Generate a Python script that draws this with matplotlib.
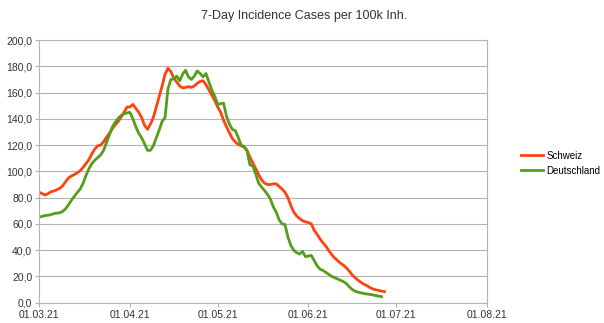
import numpy as np
import matplotlib
matplotlib.use("Agg")
import matplotlib.pyplot as plt
import matplotlib.dates as mdates
from matplotlib.ticker import FuncFormatter, MultipleLocator

plt.rcParams['font.family'] = ['Liberation Sans', 'DejaVu Sans']

# daily values from 01.03.21
start = np.datetime64('2021-03-01')
schweiz = [84, 83, 82, 83, 84.5, 85, 86, 87, 89, 92,
           95, 96.5, 97.5, 99, 100.5, 103, 106, 109, 113.5, 117,
           119.5, 120, 122.5, 126, 129, 132.5, 135.5, 138, 141.5, 145,
           149, 149, 151, 148, 145, 141, 135, 132, 136, 141,
           149, 157, 165, 174, 178.5, 176, 171, 168, 165, 163.5,
           164, 164.5, 164, 165, 167, 168.5, 169, 166, 162, 158,
           154, 149, 145, 139, 134, 129.5, 125, 122.5, 120.5, 119.5,
           118.5, 116, 111, 106.5, 102, 97.5, 93.5, 91, 90, 90,
           90.5, 90.5, 88.5, 86.5, 84, 80, 74, 69, 66, 64,
           62.5, 61.5, 61, 60, 55, 52, 48.5, 45.5, 43, 39.5,
           36.5, 34, 32, 30, 28.5, 26.5, 24, 21, 19, 17,
           15.5, 14, 13, 11.5, 10.5, 9.8, 9.3, 8.8, 8.4]
deutschland = [65, 65.8, 66.3, 66.6, 67, 67.8, 68.2, 68.4, 69.5, 71.5,
               74.5, 78, 81, 84, 86.5, 91, 97, 102, 106, 108.5,
               110.5, 112.5, 116, 122, 128, 134, 137.5, 140.5, 142.5, 143.8,
               144.5, 145, 140, 134, 129, 125.5, 121, 116, 116, 119.5,
               125.5, 131.5, 138, 141, 163, 170, 170.5, 172.5, 169, 174,
               177, 172, 170, 172.5, 176.5, 174.5, 172, 174.5, 168, 162,
               157, 151, 151.5, 152, 142, 136, 132, 131, 126, 120,
               119, 116, 105, 104, 98, 91, 88, 85.5, 82.5, 79,
               73, 69, 63, 60, 59.5, 50, 43.5, 40, 38, 37,
               39, 35, 35.5, 36, 32, 28, 25.5, 24.5, 23, 21.5,
               20, 19, 18, 17, 16, 14.5, 12, 10, 8.7, 8,
               7.4, 7, 6.6, 6.3, 5.9, 5.4, 5, 4.6]
names = ['Schweiz', 'Deutschland']
colors = ['#ff420e', '#579d1c']

d_ch = start + np.arange(len(schweiz))
d_de = start + np.arange(len(deutschland))

fig = plt.figure(figsize=(6.04, 3.23), dpi=100)
ax = fig.add_axes([0.065, 0.063, 0.741, 0.813])

ax.plot(d_ch, schweiz, color=colors[0], lw=2, label=names[0])
ax.plot(d_de, deutschland, color=colors[1], lw=2, label=names[1])

ax.set_xlim(np.datetime64('2021-03-01'), np.datetime64('2021-08-01'))
ax.set_ylim(0, 200)
ax.yaxis.set_major_locator(MultipleLocator(20))
ax.yaxis.set_major_formatter(FuncFormatter(lambda v, p: f"{v:.1f}".replace('.', ',')))
ax.xaxis.set_major_locator(mdates.MonthLocator())
ax.xaxis.set_major_formatter(mdates.DateFormatter('%d.%m.%y'))

ax.grid(axis='y', color='#b3b3b3', lw=0.8)
ax.set_axisbelow(True)
for s in ax.spines.values():
    s.set_color('#b3b3b3')
    s.set_linewidth(0.8)
ax.tick_params(axis='both', colors='#b3b3b3', labelcolor='#333333',
               labelsize=7.5, length=3, width=0.8, pad=2)

fig.suptitle('7-Day Incidence Cases per 100k Inh.', x=0.503, y=0.97, fontsize=9, color='#333333')
fig.legend(loc='center left', bbox_to_anchor=(0.862, 0.495), frameon=False,
           fontsize=7, handlelength=2.25, handletextpad=0.4, labelspacing=0.5,
           borderpad=0, borderaxespad=0)

fig.savefig('out.png', dpi=100)
